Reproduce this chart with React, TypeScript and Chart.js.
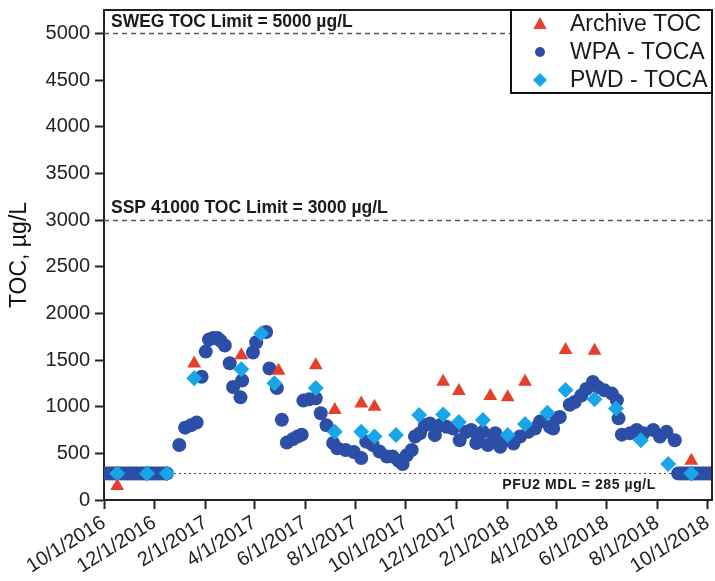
import React, { useEffect, useRef } from "react";
import { Chart, registerables } from "chart.js";

Chart.register(...registerables);

// ---------- data ----------
const ORIGIN = "2016-10-01";
const X_MAX_DATE = "2018-10-06";

const TICK_DATES = [
  "2016-10-01", "2016-12-01", "2017-02-01", "2017-04-01", "2017-06-01", "2017-08-01", "2017-10-01",
  "2017-12-01", "2018-02-01", "2018-04-01", "2018-06-01", "2018-08-01", "2018-10-01",
];
const TICK_LABELS = [
  "10/1/2016", "12/1/2016", "2/1/2017", "4/1/2017", "6/1/2017", "8/1/2017", "10/1/2017",
  "12/1/2017", "2/1/2018", "4/1/2018", "6/1/2018", "8/1/2018", "10/1/2018",
];
const Y_TICKS = [0, 500, 1000, 1500, 2000, 2500, 3000, 3500, 4000, 4500, 5000];

const ARCHIVE_DATES = [
  "2016-10-17", "2017-01-18", "2017-03-16", "2017-04-30", "2017-06-14", "2017-07-07", "2017-08-08",
  "2017-08-24", "2017-11-15", "2017-12-04", "2018-01-11", "2018-02-01", "2018-02-22", "2018-04-12",
  "2018-05-17", "2018-09-11",
];
const ARCHIVE_TOC = [150, 1463, 1552, 1385, 1445, 965, 1035, 1000, 1267, 1168, 1113, 1100, 1267, 1606, 1600, 420];

const PWD_DATES = [
  "2016-10-17", "2016-11-22", "2016-12-16", "2017-01-18", "2017-03-16", "2017-04-09", "2017-04-25",
  "2017-06-14", "2017-07-07", "2017-08-08", "2017-08-24", "2017-09-19", "2017-10-17", "2017-11-15",
  "2017-12-04", "2018-01-02", "2018-02-01", "2018-02-22", "2018-03-21", "2018-04-12", "2018-05-17",
  "2018-06-12", "2018-07-12", "2018-08-14", "2018-09-11",
];
const PWD_TOC = [
  285, 285, 285, 1305, 1400, 1785, 1250, 1200, 730, 730, 680, 696, 910, 915, 835, 857, 696, 815, 935,
  1178, 1080, 980, 640, 385, 285,
];

const WPA_DATES = [
  "2016-10-02", "2016-10-05", "2016-10-08", "2016-10-11", "2016-10-14", "2016-10-17", "2016-10-20",
  "2016-10-23", "2016-10-26", "2016-10-29", "2016-11-01", "2016-11-04", "2016-11-07", "2016-11-10",
  "2016-11-13", "2016-11-16", "2016-11-19", "2016-11-22", "2016-11-25", "2016-11-28", "2016-12-01",
  "2016-12-04", "2016-12-07", "2016-12-10", "2016-12-13", "2016-12-16",
  "2016-12-31", "2017-01-07", "2017-01-14", "2017-01-21", "2017-01-27", "2017-02-01", "2017-02-05",
  "2017-02-10", "2017-02-15", "2017-02-19", "2017-02-24", "2017-03-02", "2017-03-06", "2017-03-15",
  "2017-03-17", "2017-03-30", "2017-04-03", "2017-04-15", "2017-04-19", "2017-04-28", "2017-05-04",
  "2017-05-10", "2017-05-17", "2017-05-23", "2017-05-28", "2017-05-30", "2017-06-06", "2017-06-14",
  "2017-06-20", "2017-06-27", "2017-07-05", "2017-07-10", "2017-07-20", "2017-07-30", "2017-08-08",
  "2017-08-14", "2017-08-22", "2017-08-30", "2017-09-08", "2017-09-15", "2017-09-22", "2017-09-27",
  "2017-10-02", "2017-10-08", "2017-10-12", "2017-10-18", "2017-10-24", "2017-10-30", "2017-11-05",
  "2017-11-11", "2017-11-19", "2017-11-27", "2017-12-05", "2017-12-13", "2017-12-19", "2017-12-25",
  "2017-12-27", "2018-01-02", "2018-01-08", "2018-01-15", "2018-01-17", "2018-01-23", "2018-01-29",
  "2018-02-08", "2018-02-16", "2018-02-26", "2018-03-06", "2018-03-12", "2018-03-24", "2018-03-28",
  "2018-04-01", "2018-04-05", "2018-04-17", "2018-04-23", "2018-05-01", "2018-05-07", "2018-05-15",
  "2018-05-21", "2018-05-29", "2018-06-07", "2018-06-13", "2018-06-15", "2018-06-19", "2018-06-29",
  "2018-07-07", "2018-07-15", "2018-07-27", "2018-08-04", "2018-08-12", "2018-08-22",
  "2018-08-26", "2018-08-29", "2018-09-01", "2018-09-04", "2018-09-07", "2018-09-10", "2018-09-13",
  "2018-09-16", "2018-09-19", "2018-09-22", "2018-09-25", "2018-09-28", "2018-10-01", "2018-10-04",
];
const WPA_TOC = [
  285, 285, 285, 285, 285, 285, 285, 285, 285, 285, 285, 285, 285, 285, 285, 285, 285, 285, 285, 285,
  285, 285, 285, 285, 285, 285,
  590, 775, 800, 830, 1320, 1590, 1720, 1735, 1735, 1705, 1655, 1465, 1210, 1100, 1280, 1580, 1690,
  1800, 1410, 1200, 860, 615, 650, 680, 700, 1065, 1080, 1090, 930, 800, 610, 555, 535, 515, 450,
  625, 590, 520, 465, 465, 420, 385, 480, 535, 680, 715, 800, 820, 695, 800, 785, 765, 640, 730,
  750, 610, 680, 730, 590, 640, 715, 570, 640, 605, 680, 730, 765, 840, 785, 765, 875, 890, 1020,
  1050, 1120, 1190, 1265, 1210, 1175, 1140, 1070, 875, 700, 715, 750, 715, 750, 680, 730, 640,
  285, 285, 285, 285, 285, 285, 285, 285, 285, 285, 285, 285, 285, 285,
];

const SWEG_LIMIT = 5000;
const SSP_LIMIT = 3000;
const MDL = 285;

const RED = "#E5402B";
const DARK_BLUE = "#2C4EA6";
const LIGHT_BLUE = "#19A6E8";
const FONT = "'Liberation Sans', Arial, Helvetica, sans-serif";

function dayOf(s: string): number {
  const [y, m, d] = s.split("-").map(Number);
  const [oy, om, od] = ORIGIN.split("-").map(Number);
  return (Date.UTC(y, m - 1, d) - Date.UTC(oy, om - 1, od)) / 86400000;
}

function pts(dates: string[], vals: number[]) {
  return dates.map((d, i) => ({ x: dayOf(d), y: vals[i] }));
}

function drawMarker(ctx: CanvasRenderingContext2D, kind: string, x: number, y: number, r: number, color: string) {
  ctx.fillStyle = color;
  ctx.beginPath();
  if (kind === "triangle") {
    ctx.moveTo(x, y - r);
    ctx.lineTo(x + r * 0.95, y + r * 0.7);
    ctx.lineTo(x - r * 0.95, y + r * 0.7);
    ctx.closePath();
  } else if (kind === "circle") {
    ctx.arc(x, y, r, 0, Math.PI * 2);
  } else {
    ctx.moveTo(x, y - r);
    ctx.lineTo(x + r, y);
    ctx.lineTo(x, y + r);
    ctx.lineTo(x - r, y);
    ctx.closePath();
  }
  ctx.fill();
}

const overlayPlugin = {
  id: "overlay",
  beforeDatasetsDraw(chart: any) {
    const { ctx, chartArea, scales } = chart;
    const { left, right } = chartArea;
    const y = scales.y;
    ctx.save();
    ctx.strokeStyle = "#555";
    ctx.lineWidth = 1.3;
    ctx.setLineDash([5, 4]);
    for (const v of [SWEG_LIMIT, SSP_LIMIT]) {
      const py = Math.round(y.getPixelForValue(v)) + 0.5;
      ctx.beginPath();
      ctx.moveTo(left, py);
      ctx.lineTo(right, py);
      ctx.stroke();
    }
    ctx.setLineDash([2, 3]);
    ctx.strokeStyle = "#444";
    ctx.lineWidth = 1;
    const pm = Math.round(y.getPixelForValue(MDL)) + 0.5;
    ctx.beginPath();
    ctx.moveTo(left, pm);
    ctx.lineTo(right, pm);
    ctx.stroke();
    ctx.setLineDash([]);

    ctx.fillStyle = "#1a1a1a";
    ctx.textAlign = "left";
    ctx.textBaseline = "alphabetic";
    ctx.font = `bold 17.5px ${FONT}`;
    ctx.fillText("SWEG TOC Limit = 5000 µg/L", left + 7, y.getPixelForValue(SWEG_LIMIT) - 6);
    ctx.fillText("SSP 41000 TOC Limit = 3000 µg/L", left + 7, y.getPixelForValue(SSP_LIMIT) - 7);
    ctx.font = `bold 14px ${FONT}`;
    (ctx as any).letterSpacing = "0.6px";
    ctx.textAlign = "right";
    ctx.fillText("PFU2 MDL = 285 µg/L", right - 56, y.getPixelForValue(MDL) + 16);
    (ctx as any).letterSpacing = "0px";
    ctx.restore();
  },
  afterDraw(chart: any) {
    const { ctx, chartArea } = chart;
    const { left, right, top, bottom } = chartArea;
    ctx.save();
    ctx.strokeStyle = "#222";
    ctx.lineWidth = 2;
    ctx.beginPath();
    ctx.moveTo(left, top);
    ctx.lineTo(right, top);
    ctx.lineTo(right, bottom);
    ctx.stroke();

    // legend
    const bx = right - 201;
    const by = top;
    const bw = 201;
    const bh = 83;
    ctx.fillStyle = "#fff";
    ctx.fillRect(bx, by, bw, bh);
    ctx.strokeStyle = "#111";
    ctx.lineWidth = 2;
    ctx.strokeRect(bx, by, bw, bh);
    const items = [
      { label: "Archive TOC", kind: "triangle", color: RED, r: 7 },
      { label: "WPA - TOCA", kind: "circle", color: DARK_BLUE, r: 5 },
      { label: "PWD - TOCA", kind: "diamond", color: LIGHT_BLUE, r: 7 },
    ];
    ctx.font = `23px ${FONT}`;
    ctx.textAlign = "left";
    ctx.textBaseline = "middle";
    items.forEach((it, i) => {
      const cy = by + 14 + i * 28;
      drawMarker(ctx, it.kind, bx + 29, cy, it.r, it.color);
      ctx.fillStyle = "#1a1a1a";
      ctx.fillText(it.label, bx + 59, cy + 1);
    });
    ctx.restore();
  },
};

export default function App() {
  const ref = useRef<HTMLCanvasElement | null>(null);

  useEffect(() => {
    if (!ref.current) return;
    Chart.defaults.font.family = FONT;
    const chart = new Chart(ref.current, {
      type: "scatter",
      data: {
        datasets: [
          {
            label: "Archive TOC",
            data: pts(ARCHIVE_DATES, ARCHIVE_TOC),
            pointStyle: "triangle",
            pointRadius: 8,
            backgroundColor: RED,
            borderWidth: 0,
            order: 0,
            clip: 0,
          },
          {
            label: "WPA - TOCA",
            data: pts(WPA_DATES, WPA_TOC),
            pointStyle: "circle",
            pointRadius: 7,
            backgroundColor: DARK_BLUE,
            borderWidth: 0,
            order: 2,
            clip: 0,
          },
          {
            label: "PWD - TOCA",
            data: pts(PWD_DATES, PWD_TOC),
            pointStyle: "rectRot",
            pointRadius: 8,
            backgroundColor: LIGHT_BLUE,
            borderWidth: 0,
            order: 1,
            clip: 0,
          },
        ],
      } as any,
      options: {
        animation: false,
        responsive: false,
        layout: { autoPadding: false, padding: { left: 0, top: 10, right: 3, bottom: 0 } },
        plugins: {
          legend: { display: false },
          tooltip: { enabled: false },
        },
        scales: {
          x: {
            type: "linear",
            min: 0,
            max: dayOf(X_MAX_DATE),
            afterBuildTicks: (scale: any) => {
              scale.ticks = TICK_DATES.map((d) => ({ value: dayOf(d) }));
            },
            afterFit: (scale: any) => {
              scale.height = 81;
              scale.paddingLeft = 0;
              scale.paddingRight = 0;
            },
            ticks: {
              autoSkip: false,
              maxRotation: 32,
              minRotation: 32,
              padding: 2,
              color: "#222",
              font: { size: 20 },
              callback: (_v: any, i: number) => TICK_LABELS[i],
            },
            grid: { drawOnChartArea: false, drawTicks: true, tickLength: 9, tickColor: "#222", tickWidth: 2 },
            border: { display: true, color: "#222", width: 2 },
          },
          y: {
            type: "linear",
            min: 0,
            max: 5250,
            afterBuildTicks: (scale: any) => {
              scale.ticks = Y_TICKS.map((v) => ({ value: v }));
            },
            afterFit: (scale: any) => {
              scale.width = 104;
              scale.paddingTop = 0;
              scale.paddingBottom = 0;
            },
            ticks: {
              padding: 5,
              color: "#222",
              font: { size: 20 },
              callback: (v: any) => String(v),
            },
            title: {
              display: true,
              text: "TOC, µg/L",
              color: "#111",
              font: { size: 23 },
              padding: { top: 6, bottom: 0 },
            },
            grid: { drawOnChartArea: false, drawTicks: true, tickLength: 9, tickColor: "#222", tickWidth: 2 },
            border: { display: true, color: "#222", width: 2 },
          },
        },
      } as any,
      plugins: [overlayPlugin],
    });
    return () => chart.destroy();
  }, []);

  return (
    <div style={{ position: "absolute", left: 0, top: 0, width: 715, height: 581, background: "#fff" }}>
      <canvas ref={ref} width={715} height={581} style={{ display: "block" }} />
    </div>
  );
}
